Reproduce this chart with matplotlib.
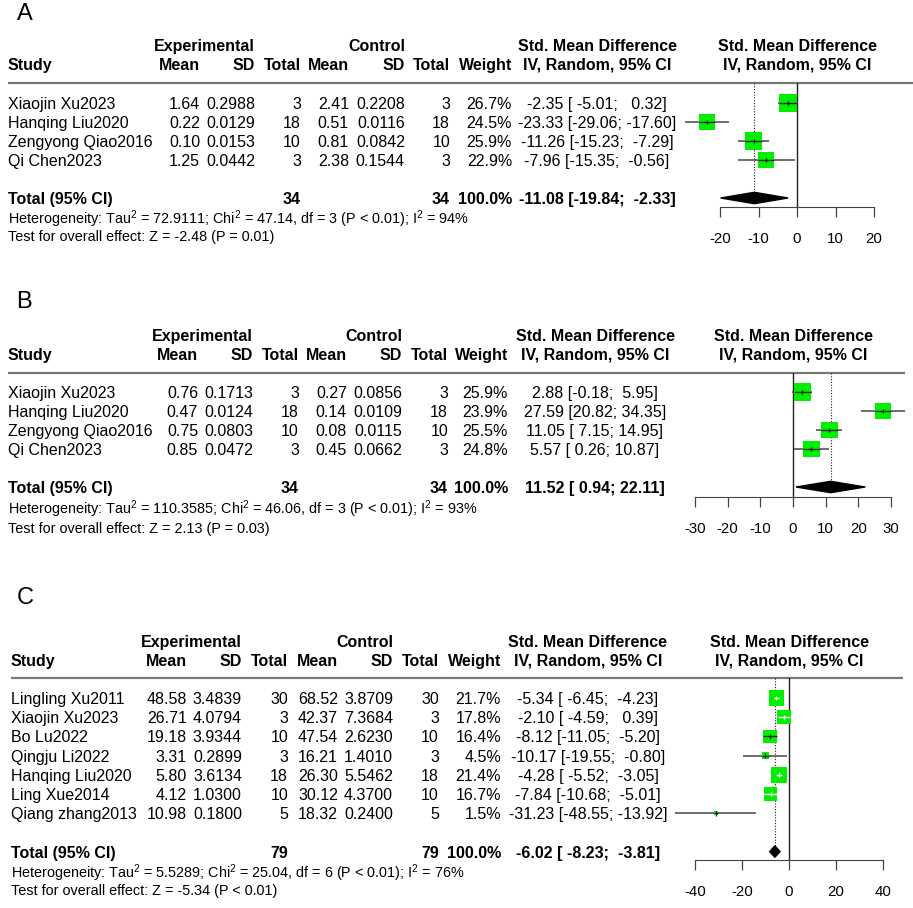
import matplotlib
matplotlib.use("Agg")
import matplotlib.pyplot as plt
from matplotlib.patches import Polygon
import numpy as np

plt.rcParams['font.family'] = ['Liberation Sans', 'DejaVu Sans']
plt.rcParams['mathtext.fontset'] = 'custom'
plt.rcParams['mathtext.rm'] = 'Liberation Sans'
plt.rcParams['mathtext.it'] = 'Liberation Sans:italic'
plt.rcParams['mathtext.bf'] = 'Liberation Sans:bold'

# ---- data: panel A ----
studies_a = ["Xiaojin Xu2023", "Hanqing Liu2020", "Zengyong Qiao2016", "Qi Chen2023"]
exp_mean_a = [1.64, 0.22, 0.10, 1.25]
exp_sd_a = [0.2988, 0.0129, 0.0153, 0.0442]
exp_n_a = [3, 18, 10, 3]
ctl_mean_a = [2.41, 0.51, 0.81, 2.38]
ctl_sd_a = [0.2208, 0.0116, 0.0842, 0.1544]
ctl_n_a = [3, 18, 10, 3]
weight_a = [26.7, 24.5, 25.9, 22.9]
smd_a = [-2.35, -23.33, -11.26, -7.96]
lo_a = [-5.01, -29.06, -15.23, -15.35]
hi_a = [0.32, -17.60, -7.29, -0.56]
pooled_a = [-11.08, -19.84, -2.33]
het_a = ["72.9111", "47.14", "3", "< 0.01", "94"]
test_a = ["-2.48", "= 0.01"]
ticks_a = [-20, -10, 0, 10, 20]

# ---- data: panel B ----
studies_b = ["Xiaojin Xu2023", "Hanqing Liu2020", "Zengyong Qiao2016", "Qi Chen2023"]
exp_mean_b = [0.76, 0.47, 0.75, 0.85]
exp_sd_b = [0.1713, 0.0124, 0.0803, 0.0472]
exp_n_b = [3, 18, 10, 3]
ctl_mean_b = [0.27, 0.14, 0.08, 0.45]
ctl_sd_b = [0.0856, 0.0109, 0.0115, 0.0662]
ctl_n_b = [3, 18, 10, 3]
weight_b = [25.9, 23.9, 25.5, 24.8]
smd_b = [2.88, 27.59, 11.05, 5.57]
lo_b = [-0.18, 20.82, 7.15, 0.26]
hi_b = [5.95, 34.35, 14.95, 10.87]
pooled_b = [11.52, 0.94, 22.11]
het_b = ["110.3585", "46.06", "3", "< 0.01", "93"]
test_b = ["2.13", "= 0.03"]
ticks_b = [-30, -20, -10, 0, 10, 20, 30]

# ---- data: panel C ----
studies_c = ["Lingling Xu2011", "Xiaojin Xu2023", "Bo Lu2022", "Qingju Li2022",
             "Hanqing Liu2020", "Ling Xue2014", "Qiang zhang2013"]
exp_mean_c = [48.58, 26.71, 19.18, 3.31, 5.80, 4.12, 10.98]
exp_sd_c = [3.4839, 4.0794, 3.9344, 0.2899, 3.6134, 1.0300, 0.1800]
exp_n_c = [30, 3, 10, 3, 18, 10, 5]
ctl_mean_c = [68.52, 42.37, 47.54, 16.21, 26.30, 30.12, 18.32]
ctl_sd_c = [3.8709, 7.3684, 2.6230, 1.4010, 5.5462, 4.3700, 0.2400]
ctl_n_c = [30, 3, 10, 3, 18, 10, 5]
weight_c = [21.7, 17.8, 16.4, 4.5, 21.4, 16.7, 1.5]
smd_c = [-5.34, -2.10, -8.12, -10.17, -4.28, -7.84, -31.23]
lo_c = [-6.45, -4.59, -11.05, -19.55, -5.52, -10.68, -48.55]
hi_c = [-4.23, 0.39, -5.20, -0.80, -3.05, -5.01, -13.92]
pooled_c = [-6.02, -8.23, -3.81]
het_c = ["5.5289", "25.04", "6", "< 0.01", "76"]
test_c = ["-5.34", "< 0.01"]
ticks_c = [-40, -20, 0, 20, 40]

W, H = 913, 908
FS = 11.5
FS_HET = 10.4
GREEN = '#00EE00'

fig = plt.figure(figsize=(W / 100, H / 100), dpi=100)
bg = fig.add_axes([0, 0, 1, 1])
bg.set_xlim(0, W)
bg.set_ylim(H, 0)
bg.axis('off')


def txt(x, y, s, ha='right', bold=False, size=FS):
    bg.text(x, y + 1.5, s, ha=ha, va='center', fontsize=size,
            fontweight='bold' if bold else 'normal')


def panel(lay, label, studies, em, esd, en, cm, csd, cn, wt, smd, lo, hi,
          pooled, het, test, ticks):
    c = lay['cols']
    n = len(studies)
    txt(lay['lab_x'], lay['lab_y'], label, ha='left', size=17)
    y1, y2 = lay['h1'], lay['h2']
    # headers
    txt(c['sd'], y1, "Experimental", bold=True)
    txt(c['csd'], y1, "Control", bold=True)
    txt(c['ci'], y1, "Std. Mean Difference", ha='center', bold=True)
    txt(lay['zero'], y1, "Std. Mean Difference", ha='center', bold=True)
    txt(c['study'], y2, "Study", ha='left', bold=True)
    for key, s in [('mean', "Mean"), ('sd', "SD"), ('tot', "Total"),
                   ('cmean', "Mean"), ('csd', "SD"), ('ctot', "Total"),
                   ('w', "Weight")]:
        txt(c[key], y2, s, bold=True)
    txt(c['ci'], y2, "IV, Random, 95% CI", ha='center', bold=True)
    txt(lay['zero'], y2, "IV, Random, 95% CI", ha='center', bold=True)
    bg.hlines(lay['line'], c['study'], lay['line_end'], color='#777777', lw=1.6)

    # CI strings, padded like R meta
    los = [f"{v:.2f}" for v in lo + [pooled[1]]]
    his = [f"{v:.2f}" for v in hi + [pooled[2]]]
    wl = max(len(s) for s in los)
    wh = max(len(s) for s in his)
    ests = [f"{v:.2f}" for v in smd + [pooled[0]]]
    cis = [f"{e} [{l:>{wl}}; {h:>{wh}}]" for e, l, h in zip(ests, los, his)]

    for i in range(n):
        y = lay['row0'] + lay['step'] * i
        txt(c['study'], y, studies[i], ha='left')
        txt(c['mean'], y, f"{em[i]:.2f}")
        txt(c['sd'], y, f"{esd[i]:.4f}")
        txt(c['tot'], y, str(en[i]))
        txt(c['cmean'], y, f"{cm[i]:.2f}")
        txt(c['csd'], y, f"{csd[i]:.4f}")
        txt(c['ctot'], y, str(cn[i]))
        txt(c['w'], y, f"{wt[i]:.1f}%")
        txt(c['ci'], y, cis[i], ha='center')

    yt = lay['row0'] + lay['step'] * (n + 1)
    txt(c['study'], yt, "Total (95% CI)", ha='left', bold=True)
    txt(c['tot'], yt, str(sum(en)), bold=True)
    txt(c['ctot'], yt, str(sum(cn)), bold=True)
    txt(c['w'], yt, "100.0%", bold=True)
    txt(c['ci'], yt, cis[-1], ha='center', bold=True)
    txt(c['study'], lay['het'],
        f"Heterogeneity: Tau$^2$ = {het[0]}; Chi$^2$ = {het[1]}, df = {het[2]} "
        f"(P {het[3]}); I$^2$ = {het[4]}%", ha='left', size=FS_HET)
    txt(c['study'], lay['test'],
        f"Test for overall effect: Z = {test[0]} (P {test[1]})", ha='left', size=FS_HET)

    # forest axes
    x0px, x1px = 640, 913
    sc, zpx = lay['scale'], lay['zero']
    top, bot = lay['line'], lay['axis']
    ax = fig.add_axes([x0px / W, 1 - bot / H, (x1px - x0px) / W, (bot - top) / H])
    ax.set_facecolor('none')
    ax.set_xlim((x0px - zpx) / sc, (x1px - zpx) / sc)
    ax.set_ylim((bot - lay['row0']) / lay['step'], (top - lay['row0']) / lay['step'])
    for s in ['top', 'right', 'left']:
        ax.spines[s].set_visible(False)
    ax.spines['bottom'].set_bounds(ticks[0], ticks[-1])
    ax.spines['bottom'].set_color('#444444')
    ax.set_yticks([])
    ax.set_xticks(ticks)
    ax.set_xticklabels([str(t) for t in ticks])
    ax.tick_params(axis='x', direction='out', length=7.2, width=0.9,
                   color='#444444', labelsize=10.8, pad=11)

    rows = np.arange(n)
    ax.axvline(0, color='#222222', lw=1.0, zorder=1)
    ax.hlines(rows, lo, hi, color='#555555', lw=1.2, zorder=2)
    side = 3.35 * np.sqrt(np.array(wt))
    ax.scatter(smd, rows, s=(side * 0.72) ** 2, marker='s', color=GREEN,
               edgecolor='none', zorder=3)
    for i in range(n):
        hw = side[i] / 2 / sc
        inside = lo[i] >= smd[i] - hw and hi[i] <= smd[i] + hw
        col = 'white' if inside else '#222222'
        if inside:
            ax.hlines(i, lo[i], hi[i], color=col, lw=1.0, zorder=4)
        else:
            ax.hlines(i, max(lo[i], smd[i] - hw), min(hi[i], smd[i] + hw),
                      color=col, lw=1.0, zorder=4)
        ax.vlines(smd[i], i - 0.13, i + 0.13, color=col, lw=0.9, zorder=4)

    tr = n + 1
    dh = 0.3
    est, plo, phi = pooled
    ax.vlines(est, ax.get_ylim()[1], tr - dh, color='#222222', lw=0.8,
              linestyles=(0, (1, 1.5)), zorder=1)
    ax.add_patch(Polygon([(plo, tr), (est, tr - dh), (phi, tr), (est, tr + dh)],
                         closed=True, color='black', zorder=3))


common_cols = dict(study=8, mean=200, sd=255, tot=301, cmean=349, csd=405,
                   ctot=450, w=512, ci=597)
lay_a = dict(cols=common_cols, lab_x=17, lab_y=13, h1=45, h2=64, line=83,
             line_end=913, row0=103, step=19.0, het=218, test=236, axis=207,
             zero=797, scale=3.85)
lay_b = dict(cols=dict(study=8, mean=198, sd=253, tot=299, cmean=347, csd=402,
                       ctot=448, w=508, ci=595),
             lab_x=16, lab_y=301, h1=335, h2=354, line=373, line_end=905,
             row0=392, step=19.0, het=508, test=527, axis=497,
             zero=793, scale=3.267)
lay_c = dict(cols=dict(study=11, mean=187, sd=242, tot=288, cmean=338, csd=393,
                       ctot=439, w=501, ci=588),
             lab_x=17, lab_y=596, h1=641, h2=660, line=678, line_end=903,
             row0=698, step=19.2, het=872, test=889, axis=860,
             zero=789, scale=2.35)

panel(lay_a, "A", studies_a, exp_mean_a, exp_sd_a, exp_n_a, ctl_mean_a, ctl_sd_a,
      ctl_n_a, weight_a, smd_a, lo_a, hi_a, pooled_a, het_a, test_a, ticks_a)
panel(lay_b, "B", studies_b, exp_mean_b, exp_sd_b, exp_n_b, ctl_mean_b, ctl_sd_b,
      ctl_n_b, weight_b, smd_b, lo_b, hi_b, pooled_b, het_b, test_b, ticks_b)
panel(lay_c, "C", studies_c, exp_mean_c, exp_sd_c, exp_n_c, ctl_mean_c, ctl_sd_c,
      ctl_n_c, weight_c, smd_c, lo_c, hi_c, pooled_c, het_c, test_c, ticks_c)

fig.savefig("out.png", dpi=100)
